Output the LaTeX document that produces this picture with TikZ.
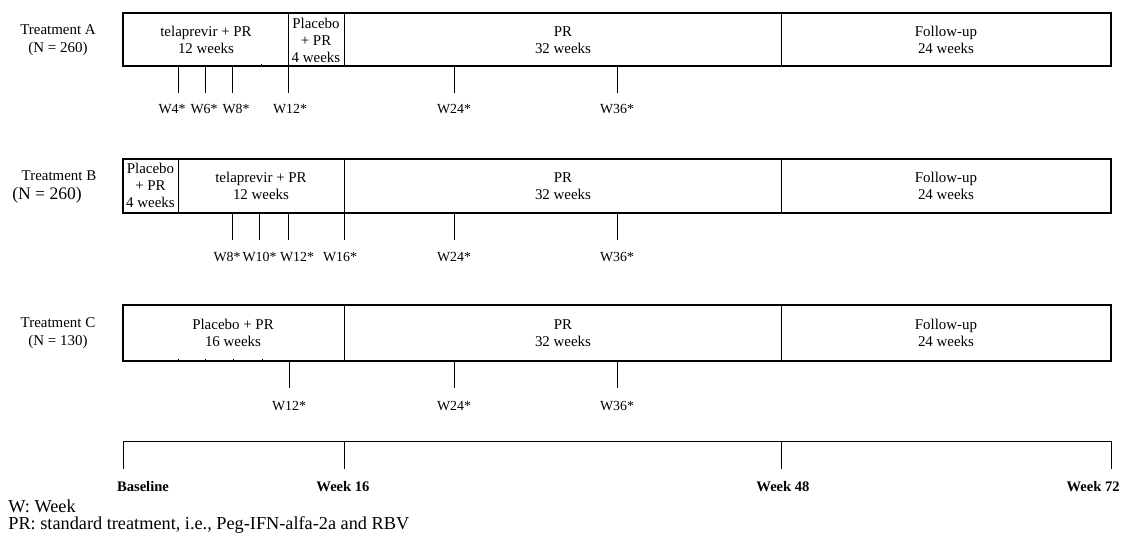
\documentclass[tikz,border=0pt]{standalone}
\usepackage{fontspec}
\setmainfont{Liberation Serif}
\tikzset{
  armbox/.style={line width=0.65pt},
  axisline/.style={line width=0.55pt},
  divider/.style={line width=0.5pt},
  phase/.style={align=center,inner sep=0pt,font=\fontsize{8.5}{9.7}\selectfont},
  armlabel/.style={align=center,inner sep=0pt,font=\fontsize{8.5}{10.2}\selectfont},
  visit/.style={inner sep=0pt,font=\fontsize{7.9}{9}\selectfont},
  milestone/.style={inner sep=0pt,font=\bfseries\fontsize{8.3}{9}\selectfont},
  note/.style={anchor=west,inner sep=0pt,font=\fontsize{10.4}{12}\selectfont}
}
\begin{document}
\begin{tikzpicture}[x=0.02cm,y=-0.02cm]
\useasboundingbox (0,0) rectangle (1126,535);
% Treatment A
\node[armlabel] (armA) at (58,40) {Treatment A\\(N = 260)};
\draw[armbox] (123,13) rectangle (1111,66);
\draw[divider] (288,13) -- (288,66) (344,13) -- (344,66) (781,13) -- (781,66);
\node[phase] (teleA) at (206,40) {telaprevir + PR\\12 weeks};
\node[phase] (plcA) at (316,40) {Placebo\\+ PR\\4 weeks};
\node[phase] (prA) at (563,40) {PR\\32 weeks};
\node[phase] (fuA) at (946,40) {Follow-up\\24 weeks};
\draw[divider] (261,66) -- (261,64);
\foreach \x/\w/\lx in {178/4/172, 205/6/204, 232/8/236, 288/12/290, 454/24/454, 617/36/617} {
  \draw[divider] (\x,66) -- (\x,93);
  \node[visit] (vA\w) at (\lx,109) {W\w*};
}
% Treatment B
\node[armlabel] (armB) at (59,176) {Treatment B};
\node[armlabel,font=\fontsize{10}{12}\selectfont] (armBn) at (47,195) {(N = 260)};
\draw[armbox] (123,159) rectangle (1111,213);
\draw[divider] (178,159) -- (178,213) (344,159) -- (344,213) (781,159) -- (781,213);
\node[phase] (plcB) at (150.5,185) {Placebo\\+ PR\\4 weeks};
\node[phase] (teleB) at (261,186) {telaprevir + PR\\12 weeks};
\node[phase] (prB) at (563,186) {PR\\32 weeks};
\node[phase] (fuB) at (946,186) {Follow-up\\24 weeks};
\foreach \x/\w/\lx in {232/8/227, 259/10/259.5, 288/12/297, 344/16/340, 454/24/454, 617/36/617} {
  \draw[divider] (\x,213) -- (\x,240);
  \node[visit] (vB\w) at (\lx,257) {W\w*};
}
% Treatment C
\node[armlabel] (armC) at (58,333) {Treatment C\\(N = 130)};
\draw[armbox] (123,305) rectangle (1111,361);
\draw[divider] (344,305) -- (344,361) (781,305) -- (781,361);
\node[phase] (plcC) at (233,333) {Placebo + PR\\16 weeks};
\node[phase] (prC) at (563,333) {PR\\32 weeks};
\node[phase] (fuC) at (946,333) {Follow-up\\24 weeks};
\foreach \x in {178,205,233,262} \draw[divider] (\x,361) -- (\x,359);
\foreach \x/\w in {289/12, 454/24, 617/36} {
  \draw[divider] (\x,361) -- (\x,388);
  \node[visit] (vC\w) at (\x,406) {W\w*};
}
% time axis
\draw[axisline] (123,469) -- (123,441) -- (1111,441) -- (1111,469);
\draw[axisline] (344,441) -- (344,469) (781,441) -- (781,469);
\node[milestone] (base) at (143,487) {Baseline};
\node[milestone] (wk16) at (343,487) {Week 16};
\node[milestone] (wk48) at (783,487) {Week 48};
\node[milestone,anchor=east] (wk72) at (1120,487) {Week 72};
% legend
\node[note] (keyW) at (8,506) {W: Week};
\node[note] (keyPR) at (8,525) {PR: standard treatment, i.e., Peg-IFN-alfa-2a and RBV};
\end{tikzpicture}
\end{document}
